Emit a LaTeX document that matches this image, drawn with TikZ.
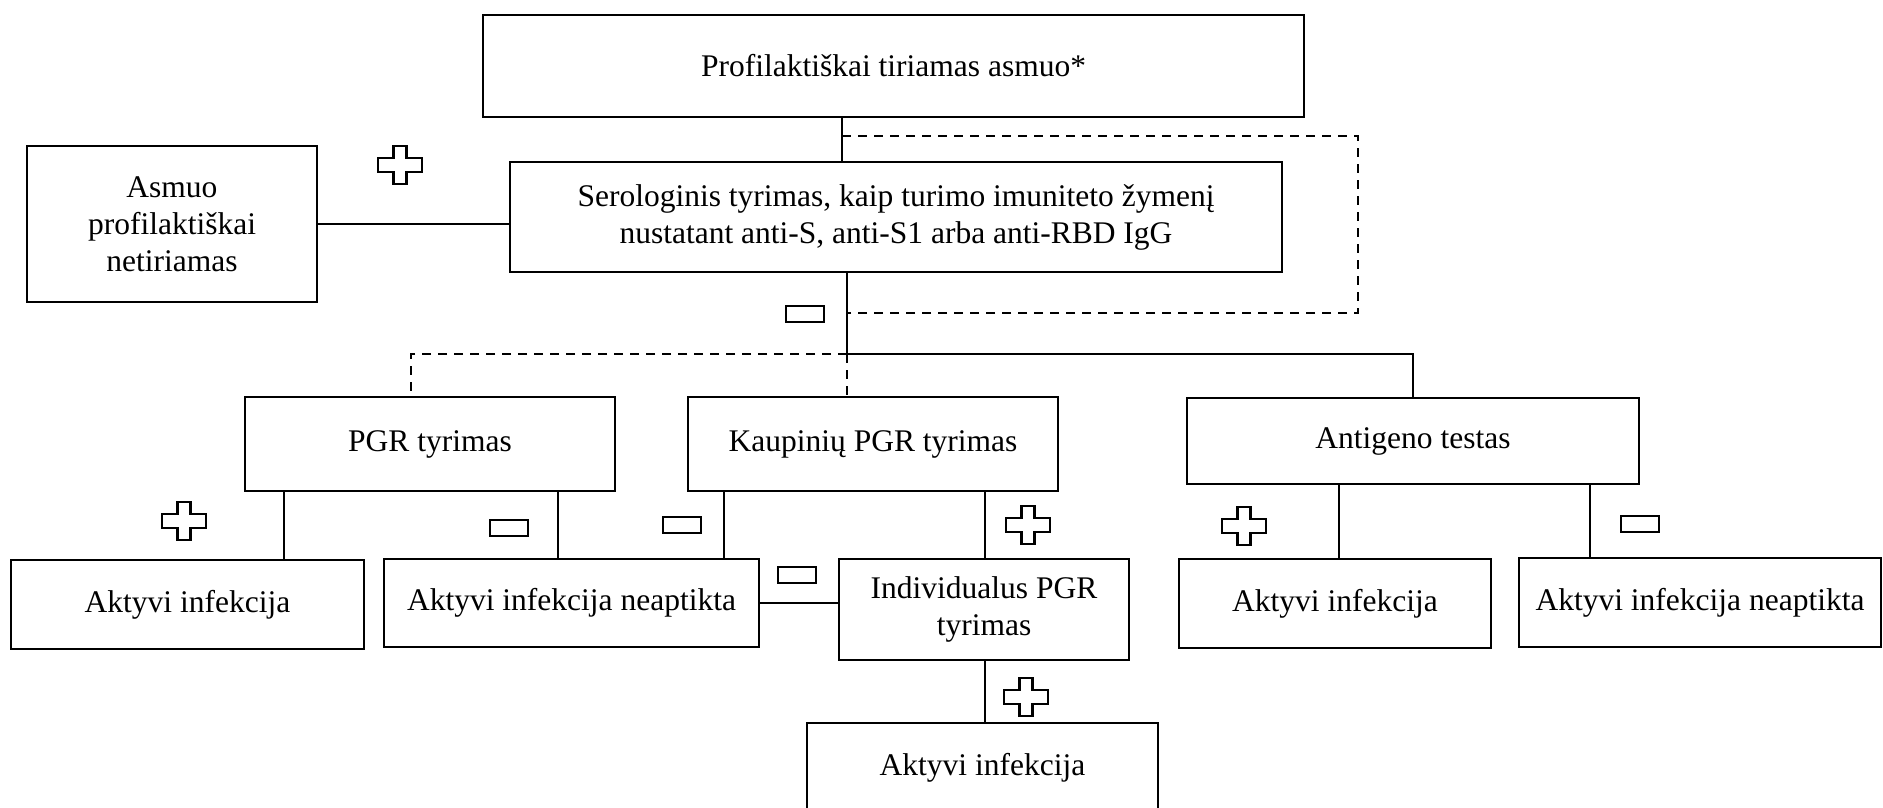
\documentclass[tikz,border=0pt]{standalone}
\usepackage{fontspec}
\setmainfont{Liberation Serif}
\begin{document}
\begin{tikzpicture}[x=1pt,y=-1pt,
  box/.style={draw, line width=2.4pt, inner sep=0pt, align=center,
    font=\fontsize{31.5}{37}\selectfont},
  cline/.style={line width=2pt},
  dline/.style={line width=2pt, dash pattern=on 9pt off 7pt},
  plusmark/.pic={\draw[line width=2.4pt, line join=miter]
    (-6.5,-19) -- (6.5,-19) -- (6.5,-7) -- (22,-7) -- (22,7) -- (6.5,7)
    -- (6.5,19) -- (-6.5,19) -- (-6.5,7) -- (-22,7) -- (-22,-7) -- (-6.5,-7) -- cycle;},
  minusmark/.pic={\draw[line width=2.4pt] (-19,-8) rectangle (19,8);}
]
\useasboundingbox (0,0) rectangle (1883,807);

% boxes
\node[box, minimum width=821, minimum height=102] (top) at (893.5,66) {Profilaktiškai tiriamas asmuo*};
\node[box, minimum width=772, minimum height=110] (sero) at (896,217) {Serologinis tyrimas, kaip turimo imuniteto žymenį\\nustatant anti-S, anti-S1 arba anti-RBD IgG};
\node[box, minimum width=290, minimum height=156] (left) at (172,224) {Asmuo\\profilaktiškai\\netiriamas};
\node[box, minimum width=370, minimum height=94] (pgr) at (430,444) {PGR tyrimas};
\node[box, minimum width=370, minimum height=94] (kaup) at (873,444) {Kaupinių PGR tyrimas};
\node[box, minimum width=452, minimum height=86] (antig) at (1413,441) {Antigeno testas};
\node[box, minimum width=353, minimum height=89] (a1) at (187.5,604.5) {Aktyvi infekcija};
\node[box, minimum width=375, minimum height=88] (n1) at (571.5,603) {Aktyvi infekcija neaptikta};
\node[box, minimum width=290, minimum height=101] (indiv) at (984,609.5) {Individualus PGR\\tyrimas};
\node[box, minimum width=351, minimum height=90] (a2) at (982.5,768) {Aktyvi infekcija};
\node[box, minimum width=312, minimum height=89] (a3) at (1335,603.5) {Aktyvi infekcija};
\node[box, minimum width=362, minimum height=89] (n2) at (1700,602.5) {Aktyvi infekcija neaptikta};

% junction coordinates
\coordinate (j1) at (842,0);
\coordinate (j2) at (847,0);
\coordinate (dr) at (1358,0);
\coordinate (dl) at (411,0);
\coordinate (busy) at (0,354);
\coordinate (dtop) at (0,136);
\coordinate (dbot) at (0,313);

% top -> serologic
\draw[cline] (j1 |- top.south) -- (j1 |- sero.north);
% dashed loop
\draw[dline] (j1 |- dtop) -- (dr |- dtop) -- (dr |- dbot) -- (j2 |- dbot);
% left box
\draw[cline] (left.east) -- (left.east -| sero.west);
% serologic down to bus, bus to antigen
\draw[cline] (j2 |- sero.south) -- (j2 |- busy) -- (antig.north |- busy) -- (antig.north);
% dashed bus to PGR and Kaupiniu
\draw[dline] (j2 |- busy) -- (dl |- busy) -- (dl |- pgr.north);
\draw[dline] (j2 |- busy) -- (j2 |- kaup.north);

% PGR children
\coordinate (x1) at (284,0);
\coordinate (x2) at (558,0);
\coordinate (x3) at (724,0);
\coordinate (x4) at (985,0);
\coordinate (x5) at (1339,0);
\coordinate (x6) at (1590,0);
\draw[cline] (x1 |- pgr.south) -- (x1 |- a1.north);
\draw[cline] (x2 |- pgr.south) -- (x2 |- n1.north);
\draw[cline] (x3 |- kaup.south) -- (x3 |- n1.north);
\draw[cline] (x4 |- kaup.south) -- (x4 |- indiv.north);
\draw[cline] (x4 |- indiv.south) -- (x4 |- a2.north);
\draw[cline] (n1.east) -- (n1.east -| indiv.west);
\draw[cline] (x5 |- antig.south) -- (x5 |- a3.north);
\draw[cline] (x6 |- antig.south) -- (x6 |- n2.north);

% plus / minus marks
\pic at (400,165) {plusmark};
\pic at (184,521) {plusmark};
\pic at (1028,525) {plusmark};
\pic at (1026,697) {plusmark};
\pic at (1244,526) {plusmark};
\pic at (805,314) {minusmark};
\pic at (509,528) {minusmark};
\pic at (682,525) {minusmark};
\pic at (797,575) {minusmark};
\pic at (1640,524) {minusmark};
\end{tikzpicture}
\end{document}
